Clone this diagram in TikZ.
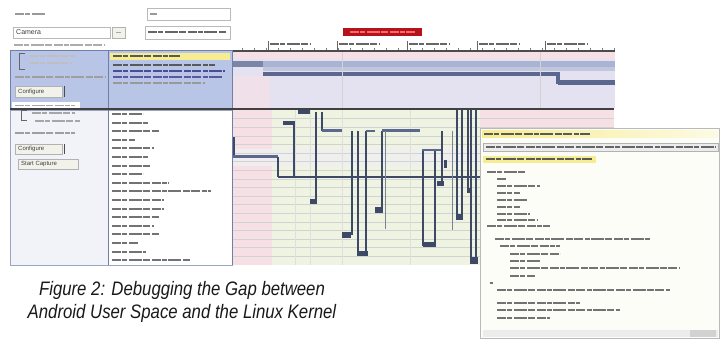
\documentclass[tikz,border=0pt]{standalone}
\usepackage{fontspec}
\setmainfont{Liberation Sans}
\newfontfamily\capfont[FakeStretch=0.86]{Liberation Sans}
\usetikzlibrary{shadings}

\definecolor{panelblue}{HTML}{B9C5E6}
\definecolor{panelline}{HTML}{6F7FA8}
\definecolor{lowerpanel}{HTML}{F2F3F8}
\definecolor{timepink}{HTML}{F6DFE5}
\definecolor{timegreen}{HTML}{EEF4E1}
\definecolor{toplav}{HTML}{E4E2F1}
\definecolor{bandblue}{HTML}{A9B4D3}
\definecolor{darkbar}{HTML}{5A6890}
\definecolor{trace}{HTML}{3E4966}
\definecolor{tracelight}{HTML}{7A8296}
\definecolor{redbar}{HTML}{B3141C}
\definecolor{codebg}{HTML}{FDFDF8}
\definecolor{hlyellow}{HTML}{F6EC92}
\definecolor{buttonbg}{HTML}{F2F2EA}

\tikzset{
  textbar/.style={line width=2pt, draw=gray!70, line cap=butt,
    dash pattern=on 9pt off 1.4pt on 5pt off 1.4pt on 13pt off 1.4pt on 7pt off 1.4pt},
  field/.style={draw=gray!55, fill=white, line width=0.5pt},
  button/.style={draw=gray!60, fill=buttonbg, line width=0.5pt},
  btntext/.style={font=\fontsize{6}{7}\selectfont, text=black!75, inner sep=0pt, anchor=west},
  tr/.style={draw=trace, line width=1.6pt},
  trlight/.style={draw=tracelight, line width=0.9pt},
  trbox/.style={fill=trace},
  rowline/.style={draw=gray!35, line width=0.45pt},
}
% a run of unreadable small print, drawn as a dashed grey bar
\newcommand\txtbar[4][]{\draw[textbar,#1] (#2,#4) -- (#3,#4);}

\begin{document}
\begin{tikzpicture}[x=1pt,y=-1pt]
\useasboundingbox (0,0) rectangle (726,339);
\fill[white] (0,0) rectangle (726,339);

% ---------- capture controls, top left ----------
\txtbar[draw=gray!80]{15}{45}{14.5}
\draw[field] (147,8) rectangle (230,20);
\txtbar[draw=gray!80]{150}{157}{14}
\draw[field] (13,27) rectangle (110,38);
\node[btntext, font=\fontsize{7}{8}\selectfont] (camsel) at (16,32.5) {Camera};
\draw[button] (112,27) rectangle (125,38);
\draw[gray!70, line width=0.8pt] (116,32.5) -- (121,32.5);
\draw[field] (145,26) rectangle (230,39);
\txtbar[draw=black!60]{148}{226}{32.5}
\txtbar[draw=gray!65, line width=1.6pt]{14}{105}{45}

% ---------- upper list panel ----------
\fill[panelblue] (10,50) rectangle (232,108);
\fill[hlyellow] (110,53) rectangle (230,60);
\txtbar[draw=black!65]{113}{180}{56.5}
\txtbar[draw=black!65]{113}{215}{65}
\txtbar[draw=blue!40!black!70]{113}{225}{71}
\txtbar[draw=blue!40!black!65]{113}{222}{77}
\txtbar[draw=black!40]{113}{205}{83}
\draw[panelline, line width=0.8pt] (10,50) rectangle (232,108);
\draw[panelline, line width=0.8pt] (108,50) -- (108,108);
\draw[black!60, line width=1pt] (25,54) -- (19,54) -- (19,70) -- (25,70);
\txtbar[draw=white!50!gray]{30}{75}{56}
\txtbar[draw=white!50!gray]{30}{72}{63}
\txtbar[draw=gray!75]{15}{105}{77}
\draw[button] (15,86) rectangle (62,97);
\node[btntext] (cfg1) at (18,91.5) {Configure};
\draw[black!70, line width=1pt] (64.5,86) -- (64.5,97);
\fill[white] (12,102) rectangle (80,109);
\txtbar[draw=gray!70, line width=1.5pt]{15}{75}{105.5}

% ---------- lower list panel ----------
\fill[lowerpanel] (10,110) rectangle (108,265);
\fill[white] (108,110) rectangle (232,265);
\draw[panelline!70, line width=0.6pt] (10,110) rectangle (232,265);
\draw[panelline, line width=0.8pt] (108,110) -- (108,265);
\draw[black!60, line width=1pt] (27,111) -- (21,111) -- (21,121) -- (27,121);
\txtbar[draw=gray!70]{32}{75}{113.5}
\txtbar[draw=gray!70]{35}{80}{121}
\txtbar[draw=gray!75]{15}{75}{133}
\draw[button] (15,144) rectangle (62,154);
\node[btntext] (cfg2) at (18,149) {Configure};
\draw[black!70, line width=1pt] (64.5,144) -- (64.5,154);
\draw[button] (18,159) rectangle (78,169);
\node[btntext] (start) at (21,164) {Start Capture};
\foreach \len [count=\k from 0] in {12,14,18,9,16,14,15,12,22,38,20,20,18,16,18,10,13,30}
  \txtbar[draw=black!55]{112}{112+\len*2.6}{114+8.6*\k};

% ---------- time ruler ----------
\fill[redbar] (343,28) rectangle (422,36);
\txtbar[draw=red!60!white, line width=1.4pt]{350}{415}{32}
\foreach \tx in {268,337,407,477,545} {
  \draw[black!60, line width=0.6pt] (\tx,41) -- (\tx,51);
  \txtbar[draw=black!60, line width=1.6pt]{\tx+2}{\tx+43}{44}
}
\foreach \tx in {242,254,...,614}
  \draw[black!50, line width=0.4pt] (\tx,48) -- (\tx,51);

% ---------- upper timeline ----------
\fill[toplav] (232,52) rectangle (615,108);
\fill[timepink] (232,52) rectangle (615,59);
\fill[timepink!60!toplav] (232,76) rectangle (270,108);
\fill[bandblue] (232,61) rectangle (615,67);
\fill[darkbar!80] (232,61) rectangle (263,67);
\fill[bandblue!60!toplav] (263,67) rectangle (615,71);
\fill[darkbar] (263,72) rectangle (558,76);
\fill[darkbar] (556,72) rectangle (560,84);
\fill[darkbar] (558,80) rectangle (615,85);
\draw[gray!35, line width=0.5pt] (342,52) -- (342,108);
\draw[gray!35, line width=0.5pt] (540,52) -- (540,108);
\draw[black!70, line width=2pt] (232,51) -- (615,51);

% ---------- lower timeline ----------
\fill[timegreen] (232,110) rectangle (614,265);
\fill[timepink] (232,110) rectangle (272,265);
\fill[timepink] (480,110) rectangle (614,128);
\fill[gray!12, opacity=0.8] (232,149) rectangle (480,166);
\foreach \k in {1,...,17}
  \draw[rowline] (232,110+8.6*\k) -- (614,110+8.6*\k);
\foreach \gx in {295,310,342,410}
  \draw[gray!25, line width=0.5pt] (\gx,110) -- (\gx,265);
\draw[panelline, line width=0.8pt] (232,50) -- (232,265);

% traces: each call drawn as a drop from its row with a box at the end
\fill[trbox] (298,110) rectangle (310,114);
\fill[trbox] (283,121) rectangle (295,125);
\draw[tr] (294,125) -- (294,177);
\draw[tr] (316,112) -- (316,202);
\fill[trbox] (310,199) rectangle (317,204);
\draw[tr] (322,112) -- (322,131);
\draw[darkbar, line width=3pt] (322,131) -- (342,131);
\draw[tr] (234,137) -- (234,158);
\draw[darkbar, line width=3pt] (233,157) -- (278,157);
\draw[tr] (278,157) -- (278,177);
\draw[trace, line width=2pt] (278,177) -- (614,177);
\draw[tr] (352,131) -- (352,235);
\fill[trbox] (342,232) rectangle (351,238);
\draw[tr] (358,131) -- (358,254);
\draw[tr] (366,131) -- (366,254);
\fill[trbox] (357,251) rectangle (368,256);
\draw[darkbar, line width=2.5pt] (366,131) -- (375,131);
\draw[tr] (382,131) -- (382,211);
\fill[trbox] (375,207) rectangle (383,213);
\draw[darkbar, line width=3pt] (382,131) -- (420,131);
\draw[trlight] (385,131) -- (385,229);
\draw[tr] (423,150) -- (423,246);
\draw[tr] (435,150) -- (435,246);
\fill[trbox] (423,242) rectangle (436,247);
\draw[darkbar, line width=2.5pt] (422,150) -- (442,150);
\draw[tr] (442,131) -- (442,184);
\fill[trbox] (437,181) rectangle (444,186);
\fill[trbox] (444,160) rectangle (447,168);
\draw[trlight] (452,131) -- (452,230);
\draw[tr] (457,110) -- (457,218);
\draw[tr] (462,110) -- (462,220);
\fill[trbox] (456,214) rectangle (463,220);
\draw[tr] (468,110) -- (468,192);
\fill[trbox] (466.5,188) rectangle (470,193);
\draw[tr] (471,110) -- (471,264);
\draw[tr] (476,110) -- (476,264);
\fill[trbox] (470,257) rectangle (478,264);

\draw[black!75, line width=2pt] (10,109.5) -- (614,109.5);

% ---------- source window ----------
\fill[codebg] (480,128) rectangle (719,338);
\draw[gray!55, line width=0.6pt] (480,128) rectangle (719,338);
\shade[left color=hlyellow, right color=hlyellow!25] (482,131) rectangle (718,138);
\txtbar[draw=black!65]{484}{590}{134.5}
\draw[fill=gray!15, draw=gray!60, line width=0.5pt] (483,143) rectangle (718,151);
\txtbar[draw=black!60]{486}{716}{147}
\fill[hlyellow] (483,156) rectangle (596,163);
\txtbar[draw=black!65]{486}{592}{159.5}
\foreach \ya/\xa/\xb in {
  172/487/525, 179/497/507, 186/497/540, 193/497/520, 200/497/528,
  207/497/520, 214/497/530, 220/497/538, 226/487/550, 239/495/650,
  246/500/560, 254/510/560, 261/510/540, 268/510/680, 276/510/535,
  283/490/493, 290/497/670, 303/497/580, 310/497/620, 318/497/550}
  \txtbar[draw=black!55, line width=1.7pt]{\xa}{\xb}{\ya};
\fill[gray!15] (483,330) rectangle (718,337);
\fill[gray!35] (690,330) rectangle (716,337);

% ---------- caption ----------
\node[font=\capfont\itshape\fontsize{19.5}{23}\selectfont, align=center,
      text=black!90, inner sep=0pt] (caption) at (182,302)
  {Figure 2: Debugging the Gap between\\Android User Space and the Linux Kernel};
\end{tikzpicture}
\end{document}
